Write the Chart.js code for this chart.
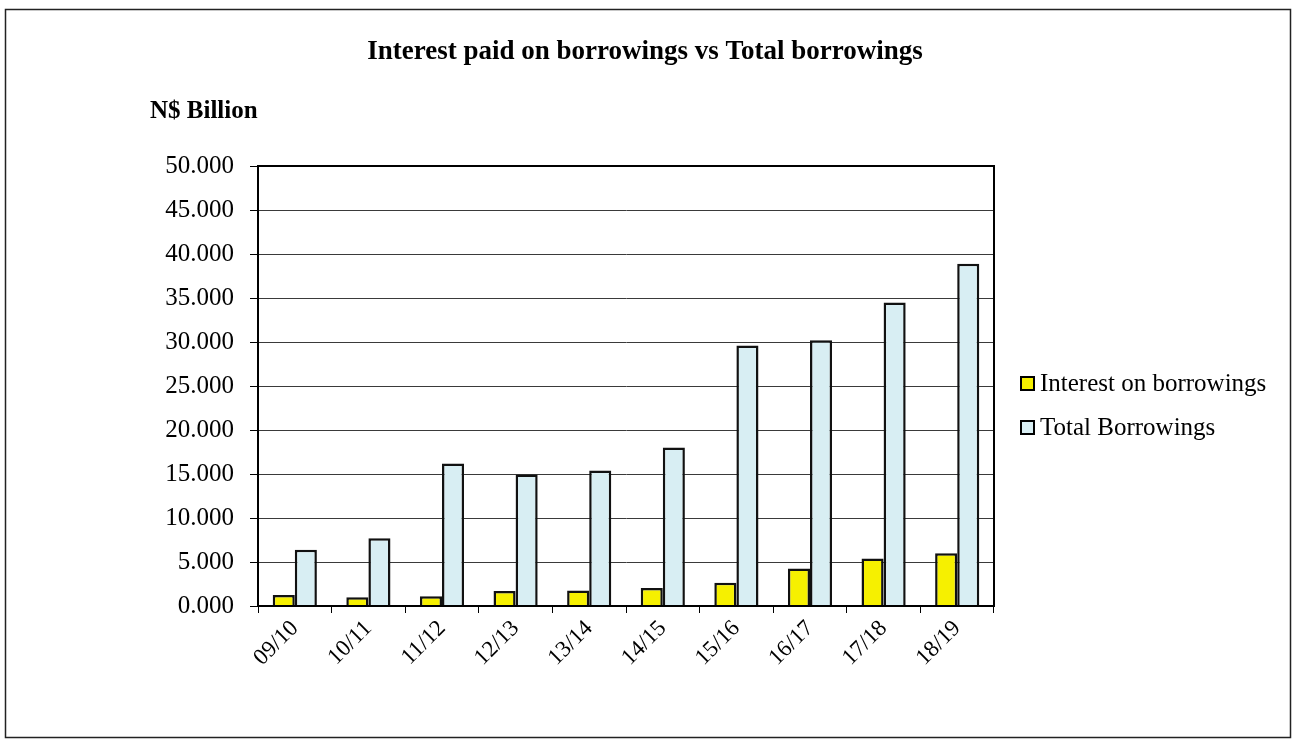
<!DOCTYPE html>
<html>
<head>
<meta charset="utf-8">
<title>Interest paid on borrowings vs Total borrowings</title>
<script src="https://cdn.jsdelivr.net/npm/chart.js@4.4.0/dist/chart.umd.min.js"></script>
<style>
    html, body { margin: 0; padding: 0; background: #fff; }
    #wrap { width: 1295px; height: 741px; }
</style>
</head>
<body>
<div id="wrap"><canvas id="borrowings" width="1295" height="741"></canvas></div>
<script>
// data (N$ billion)
var years = ['09/10', '10/11', '11/12', '12/13', '13/14', '14/15', '15/16', '16/17', '17/18', '18/19'];
var interestPaid = [1.25, 1.0, 1.1, 1.7, 1.75, 2.05, 2.65, 4.25, 5.4, 6.0];
var totalBorrowings = [6.4, 7.7, 16.2, 14.95, 15.4, 18.0, 29.6, 30.2, 34.5, 38.9];
var seriesNames = ['Interest on borrowings', 'Total Borrowings'];
var chartTitle = 'Interest paid on borrowings vs Total borrowings';
var unitLabel = 'N$ Billion';

var serif = '"Liberation Serif", "Times New Roman", serif';

// titles, frames and legend drawn straight on the canvas
var decorPlugin = {
    id: 'decor',
    beforeDraw: function(chart) {
        var ctx = chart.ctx;
        ctx.save();
        ctx.fillStyle = '#fff';
        ctx.fillRect(0, 0, chart.width, chart.height);
        ctx.restore();
    },
    afterDraw: function(chart) {
        var ctx = chart.ctx, a = chart.chartArea;
        ctx.save();
        // plot frame
        ctx.strokeStyle = '#000';
        ctx.lineWidth = 2;
        ctx.strokeRect(a.left, a.top, a.right - a.left, a.bottom - a.top);
        // outer border of the chart object
        ctx.lineWidth = 1.5;
        ctx.strokeStyle = '#222';
        ctx.strokeRect(5.5, 9.5, 1285, 728);

        ctx.fillStyle = '#000';
        ctx.textBaseline = 'middle';
        ctx.font = 'bold 27px ' + serif;
        ctx.textAlign = 'center';
        ctx.fillText(chartTitle, 645, 52);
        ctx.font = 'bold 25px ' + serif;
        ctx.textAlign = 'left';
        ctx.fillText(unitLabel, 150, 112);

        // legend
        ctx.font = '25px ' + serif;
        var rows = [384, 428];
        chart.data.datasets.forEach(function(ds, i) {
            var y = rows[i];
            ctx.fillStyle = ds.backgroundColor;
            ctx.fillRect(1021, y - 7, 13, 13);
            ctx.lineWidth = 2;
            ctx.strokeStyle = '#000';
            ctx.strokeRect(1021, y - 7, 13, 13);
            ctx.fillStyle = '#000';
            ctx.fillText(ds.label, 1040, y);
        });
        ctx.restore();
    }
};

var conf = {
    type: 'bar',
    data: {
        labels: years,
        datasets: [{
            label: seriesNames[0],
            data: interestPaid,
            backgroundColor: '#f6f000',
            borderColor: '#111',
            borderWidth: 2.5
        }, {
            label: seriesNames[1],
            data: totalBorrowings,
            backgroundColor: '#d8eef3',
            borderColor: '#111',
            borderWidth: 2.5
        }]
    },
    options: {
        responsive: false,
        animation: false,
        devicePixelRatio: 1,
        layout: {
            padding: { top: 166, right: 301, bottom: 0, left: 0 }
        },
        datasets: {
            bar: { categoryPercentage: 0.6, barPercentage: 1.0 }
        },
        plugins: {
            legend: { display: false },
            title: { display: false },
            tooltip: { enabled: false }
        },
        scales: {
            x: {
                ticks: {
                    maxRotation: 45,
                    minRotation: 45,
                    color: '#000',
                    padding: 2,
                    font: { family: serif, size: 23 }
                },
                grid: {
                    drawOnChartArea: false,
                    offset: true,
                    tickLength: 7,
                    tickColor: '#000'
                },
                border: { color: '#000', width: 2 },
                afterFit: function(s) { s.height = 135; }
            },
            y: {
                min: 0,
                max: 50,
                ticks: {
                    stepSize: 5,
                    color: '#000',
                    padding: 16,
                    font: { family: serif, size: 25 },
                    callback: function(v) { return v.toFixed(3); }
                },
                grid: {
                    color: '#3a3a3a',
                    lineWidth: 1,
                    tickLength: 8,
                    tickColor: '#000'
                },
                border: { color: '#000', width: 2 },
                afterFit: function(s) { s.width = 258; }
            }
        }
    },
    plugins: [decorPlugin]
};

window.borrowingsBar = new Chart(document.getElementById('borrowings').getContext('2d'), conf);
</script>
</body>
</html>
